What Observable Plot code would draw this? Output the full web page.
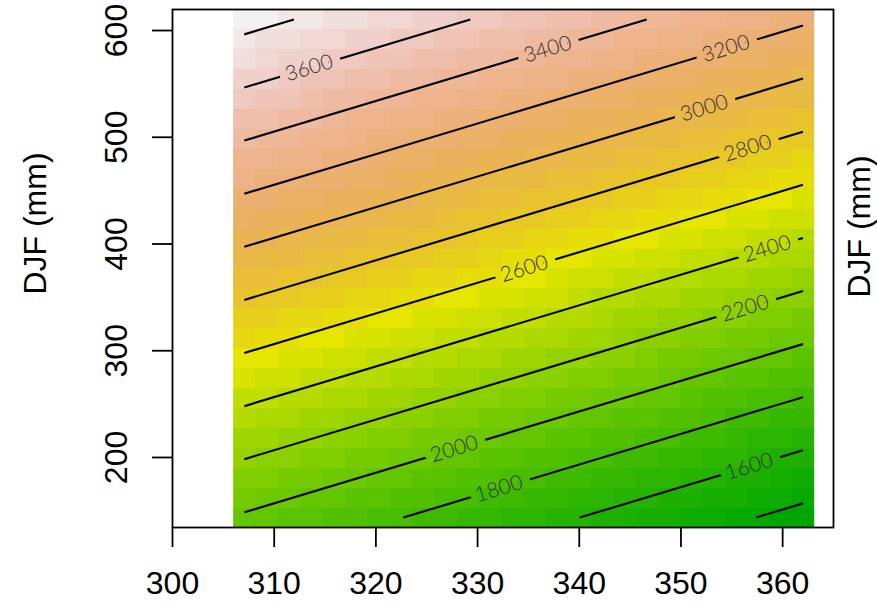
<!DOCTYPE html>
<html><head><meta charset="utf-8">
<script src="https://cdn.jsdelivr.net/npm/d3@7"></script>
<script src="https://cdn.jsdelivr.net/npm/@observablehq/plot@0.6"></script>
<style>body{margin:0;background:#fff;}</style>
</head><body><div id="chart"></div>
<script>
// ---- data ----
// surface samples at the corners of the image grid
const sampleX = [305.96, 363.1, 305.96, 363.1];
const sampleY = [134.4, 134.4, 619.7, 619.7];
const sampleZ = [1956, 1297, 3906, 3248];
const zLimits = [1347, 3856];            // range of the gridded values
const gridXRange = [305.96, 363.1];
const gridYRange = [134.4, 619.7];
const gridCols = 26;
const gridRows = 26;
const nColors = 50;

// contour lines (straight segments)
const contourLevels = [1400, 1600, 1800, 2000, 2200, 2400, 2600, 2800, 3000, 3200, 3400, 3600, 3800];
const contourX1 = [357.38, 340.04, 322.69, 307.06, 307.06, 307.06, 307.06, 307.06, 307.06, 307.06, 307.06, 307.06, 307.06];
const contourY1 = [143.7, 143.7, 143.7, 148.6, 198.4, 248.1, 297.9, 347.6, 397.4, 447.1, 496.9, 546.6, 596.4];
const contourX2 = [362.0, 362.0, 362.0, 362.0, 362.0, 362.0, 362.0, 362.0, 362.0, 362.0, 346.63, 329.29, 311.94];
const contourY2 = [157.0, 206.7, 256.5, 306.2, 356.0, 405.7, 455.5, 505.2, 555.0, 604.7, 610.4, 610.4, 610.4];

// contour labels
const labelLevel = [3600, 3400, 3200, 3000, 2800, 2600, 2400, 2200, 2000, 1800, 1600];
const labelX = [313.44, 336.88, 354.42, 352.29, 356.56, 334.58, 358.47, 356.31, 327.70, 332.1, 356.71];
const labelY = [564.9, 582.4, 583.0, 527.1, 489.6, 376.8, 395.6, 339.7, 207.8, 170.7, 191.5];

const xTicks = [300, 310, 320, 330, 340, 350, 360];
const yTicks = [200, 300, 400, 500, 600];
const yLabel = "DJF (mm)";

// ---- R terrain.colors ----
function hsv(h, s, v) {
  const i = Math.floor(h * 6) % 6, f = h * 6 - Math.floor(h * 6);
  const p = v * (1 - s), q = v * (1 - f * s), t = v * (1 - (1 - f) * s);
  const [r, g, b] = [[v,t,p],[q,v,p],[p,v,t],[p,q,v],[t,p,v],[v,p,q]][i];
  const c = x => Math.round(x * 255);
  return `rgb(${c(r)},${c(g)},${c(b)})`;
}
function terrainColors(n) {
  const k = Math.floor(n / 2), out = [];
  for (let j = 0; j < k; j++) {
    const f = k > 1 ? j / (k - 1) : 0;
    out.push(hsv(4/12 + (2/12 - 4/12) * f, 1, 0.65 + 0.25 * f));
  }
  const m = n - k;
  for (let j = 1; j <= m; j++) {
    const f = j / m;
    out.push(hsv(2/12 * (1 - f), 1 - f, 0.9 + 0.05 * f));
  }
  return out;
}
const pal = terrainColors(nColors);
const interp = t => pal[Math.max(0, Math.min(nColors - 1, Math.ceil(t * nColors) - 1))];

const samples = sampleX.map((x, i) => ({x, y: sampleY[i], z: sampleZ[i]}));
const contours = contourLevels.map((level, i) => ({level, x1: contourX1[i], y1: contourY1[i], x2: contourX2[i], y2: contourY2[i]}));
const labels = labelLevel.map((level, i) => ({level, x: labelX[i], y: labelY[i]}));

const chart = Plot.plot({
  width: 877, height: 603,
  marginLeft: 172, marginRight: 44, marginTop: 9, marginBottom: 76,
  style: {fontFamily: "'Liberation Sans', Arial, sans-serif", background: "#fff", color: "black"},
  x: {domain: [300, 365], label: null},
  y: {domain: [134.4, 619.7], label: null},
  color: {type: "linear", domain: zLimits, interpolate: interp, clamp: true},
  marks: [
    Plot.raster(samples, {x: "x", y: "y", fill: "z", interpolate: "barycentric",
      x1: gridXRange[0], x2: gridXRange[1], y1: gridYRange[0], y2: gridYRange[1],
      width: gridCols, height: gridRows, imageRendering: "pixelated"}),
    Plot.link(contours, {x1: "x1", y1: "y1", x2: "x2", y2: "y2", stroke: "black", strokeWidth: 2.1}),
    Plot.text(labels, {x: "x", y: "y", text: d => String(d.level), rotate: -16.75,
      fill: "#333", fontSize: 21, fontFamily: "Lato, 'DejaVu Sans', sans-serif", fontWeight: 300}),
    Plot.frame({stroke: "black", strokeWidth: 1.8}),
    Plot.axisX(xTicks, {tickSize: 20, tickPadding: 24, fontSize: 32, strokeWidth: 1.8, label: null}),
    Plot.axisY(yTicks, {tickSize: 20, tickFormat: () => "", strokeWidth: 1.8, label: null}),
    Plot.text(yTicks, {y: d => d, text: d => String(d), frameAnchor: "left", dx: -46, rotate: -90, textAnchor: "middle", lineAnchor: "bottom", fontSize: 32, fill: "black"}),
    Plot.text([yLabel], {text: d => d, frameAnchor: "left", dx: -127, dy: -45, rotate: -90, textAnchor: "middle", lineAnchor: "bottom", fontSize: 32, fill: "black"}),
    Plot.text([yLabel], {text: d => d, frameAnchor: "right", dx: 36, dy: -42, rotate: -90, textAnchor: "middle", lineAnchor: "bottom", fontSize: 32, fill: "black"})
  ]
});

// break the contour lines where the labels sit (as R's contour() does)
(function () {
  const ns = "http://www.w3.org/2000/svg";
  const linkG = chart.querySelector('g[aria-label="link"]');
  const labelG = chart.querySelector('g[aria-label="text"]');
  if (!linkG || !labelG) return;
  const defs = document.createElementNS(ns, "defs");
  const mask = document.createElementNS(ns, "mask");
  mask.setAttribute("id", "contour-gaps");
  mask.setAttribute("maskUnits", "userSpaceOnUse");
  mask.setAttribute("x", 0); mask.setAttribute("y", 0);
  mask.setAttribute("width", 877); mask.setAttribute("height", 603);
  const rect = document.createElementNS(ns, "rect");
  rect.setAttribute("width", 877); rect.setAttribute("height", 603); rect.setAttribute("fill", "white");
  const clone = labelG.cloneNode(true);
  clone.setAttribute("fill", "black");
  clone.setAttribute("stroke", "black");
  clone.setAttribute("stroke-width", 17);
  clone.setAttribute("stroke-linejoin", "round");
  clone.querySelectorAll("text").forEach(t => { t.setAttribute("fill", "black"); t.setAttribute("stroke", "black"); });
  mask.append(rect, clone);
  defs.append(mask);
  chart.prepend(defs);
  linkG.setAttribute("mask", "url(#contour-gaps)");
})();

document.getElementById("chart").append(chart);
</script>
</body></html>
